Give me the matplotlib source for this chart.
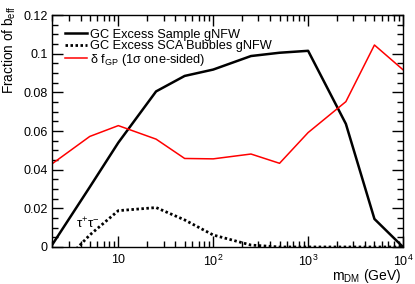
import numpy as np
import matplotlib
matplotlib.use("Agg")
import matplotlib.pyplot as plt
from matplotlib.ticker import MultipleLocator, FuncFormatter, LogLocator, FixedLocator

plt.rcParams["font.family"] = ["Liberation Sans", "DejaVu Sans"]
plt.rcParams["mathtext.fontset"] = "custom"
plt.rcParams["mathtext.rm"] = "Liberation Sans"
plt.rcParams["mathtext.it"] = "Liberation Sans"
plt.rcParams["mathtext.default"] = "regular"

# DM masses (GeV) and fractions of b_eff
mass = [2, 5, 10, 25, 50, 100, 250, 500, 1000, 2500, 5000, 10000]
gc_sample = [0.001, 0.031, 0.054, 0.0805, 0.0885, 0.0918, 0.0988, 0.1005, 0.1015, 0.0637, 0.0145, 0.0]
gc_sca = [-0.014, 0.0062, 0.0188, 0.0204, 0.014, 0.0062, 0.001, 0.0, 0.0, 0.0, 0.0, 0.0]
delta_fgp = [0.043, 0.0572, 0.0628, 0.0558, 0.0458, 0.0456, 0.0481, 0.0433, 0.0592, 0.0752, 0.1045, 0.0917]

labels = ["GC Excess Sample gNFW", "GC Excess SCA Bubbles gNFW",
          r"$\delta$ f$_{\rm GP}$ (1$\sigma$ one-sided)"]

fig = plt.figure(figsize=(4.15, 2.84), dpi=100)
ax = fig.add_axes([0.1253, 0.1303, 0.8458, 0.8167])

ax.plot(mass, gc_sample, color="black", lw=1.8, label=labels[0])
ax.plot(mass, gc_sca, color="black", lw=2.0, ls=(0, (0.9, 0.9)), label=labels[1])
ax.plot(mass, delta_fgp, color="#ff0000", lw=1.1, label=labels[2])

ax.set_xscale("log")
ax.set_xlim(2, 1e4)
ax.set_ylim(0, 0.12)

ax.xaxis.set_major_locator(FixedLocator([10, 100, 1000, 10000]))
ax.xaxis.set_minor_locator(LogLocator(base=10, subs=np.arange(2, 10), numticks=20))


def xfmt(v, pos):
    n = int(round(np.log10(v)))
    return "10" if n == 1 else r"$10^{%d}$" % n


ax.xaxis.set_major_formatter(FuncFormatter(xfmt))
ax.xaxis.set_minor_formatter(FuncFormatter(lambda v, p: ""))
ax.yaxis.set_major_locator(MultipleLocator(0.02))
ax.yaxis.set_minor_locator(MultipleLocator(0.005))
ax.yaxis.set_major_formatter(FuncFormatter(lambda v, p: "%g" % round(v, 3)))

ax.tick_params(which="both", direction="in", top=True, right=True, width=1.0,
               labelsize=9, colors="black")
ax.tick_params(which="major", length=8)
ax.tick_params(which="minor", length=4)
ax.tick_params(axis="x", pad=5)
ax.tick_params(axis="y", pad=3)
for s in ax.spines.values():
    s.set_linewidth(1.0)

ax.set_xlabel(r"m$_{\rm DM}$ (GeV)", fontsize=10, loc="right")
ax.xaxis.set_label_coords(0.995, -0.088)
ax.set_ylabel(r"Fraction of b$_{\rm eff}$", fontsize=9.8, loc="top")
ax.yaxis.set_label_coords(-0.096, 1.04)

ax.text(3.6, 0.0095, r"$\tau^{+}\tau^{-}$", fontsize=9.5, ha="left", va="baseline")

ax.legend(loc="upper left", bbox_to_anchor=(0.037, 0.94), frameon=False,
          fontsize=9.2, handlelength=1.75, handletextpad=0.2, labelspacing=-0.04,
          borderpad=0, borderaxespad=0)

fig.savefig("out.png", dpi=100)
